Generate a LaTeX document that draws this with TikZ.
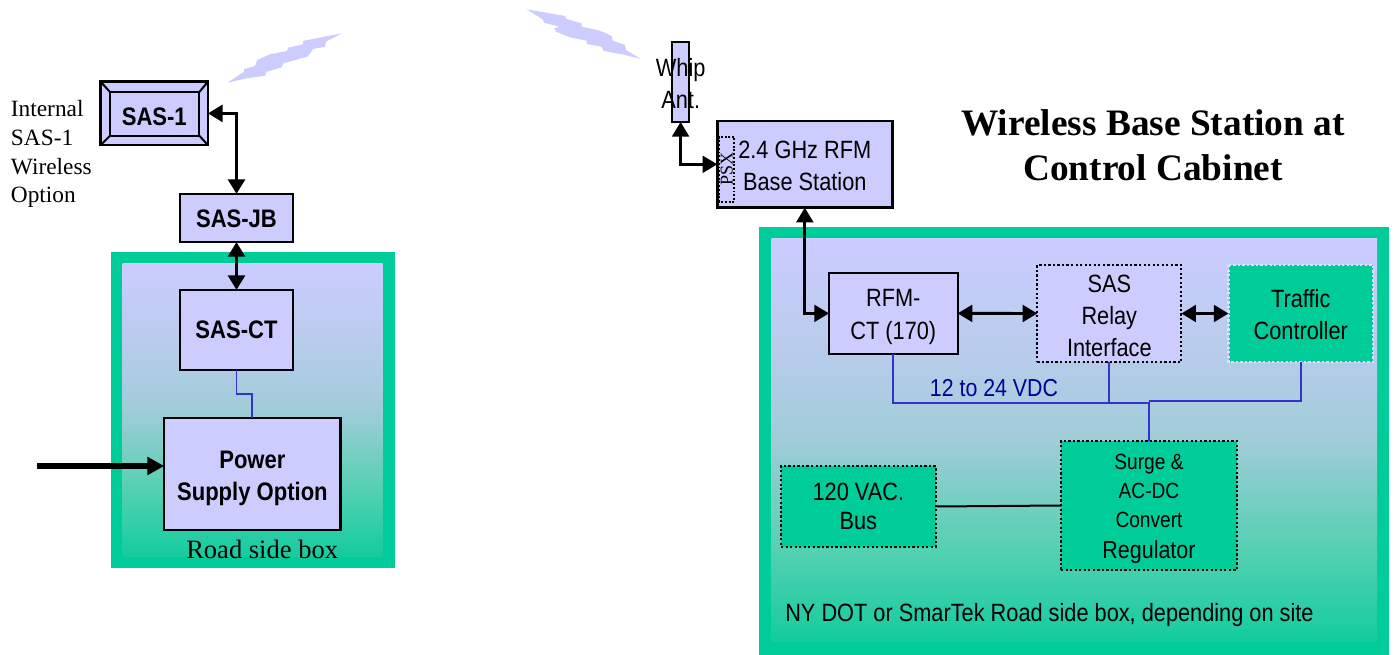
\documentclass[tikz,border=0pt]{standalone}
\usepackage{fontspec}
\setmainfont{Liberation Serif}
\newfontfamily\ari[FakeStretch=0.87]{Liberation Sans}
\usetikzlibrary{arrows.meta}
\definecolor{lav}{HTML}{CCCCFF}
\definecolor{grn}{HTML}{00CC99}
\definecolor{shA}{HTML}{CCCCFF}
\definecolor{shB}{HTML}{BACCEE}
\definecolor{shC}{HTML}{A0CCD8}
\definecolor{shD}{HTML}{5AD0B4}
\definecolor{shE}{HTML}{14CC9E}
\definecolor{pwr}{HTML}{3333CC}
\definecolor{lbl}{HTML}{000099}
\pgfdeclareverticalshading{cab}{100bp}{color(0bp)=(shE); color(25bp)=(shE); color(37.5bp)=(shD); color(50bp)=(shC); color(62.5bp)=(shB); color(75bp)=(shA); color(100bp)=(shA)}
\newcommand{\toph}[1]{\rule{0pt}{#1pt}}
\tikzset{
  wh/.style 2 args={minimum width=#1*0.75pt,minimum height=#2*0.75pt},
  pxbox/.style={rectangle,outer sep=0pt,inner sep=0pt,align=center,text=black},
  solidbox/.style={pxbox,draw=black,fill=lav,line width=1.9pt},
  thinbox/.style={pxbox,draw=black,fill=lav,line width=1.6pt},
  dotbox/.style={pxbox,draw=black,line width=1.7pt,dash pattern=on 1.7pt off 1.7pt},
  sf/.style={font=\ari\fontsize{18.75pt}{24pt}\selectfont},
  sfb/.style={font=\ari\bfseries\fontsize{19pt}{24pt}\selectfont},
  link/.style={draw=black,line width=2.8pt,{Triangle[length=11pt,width=12.5pt]}-{Triangle[length=11pt,width=12.5pt]}},
  linktwo/.style={draw=black,line width=2.2pt,{Triangle[length=11pt,width=12.5pt]}-{Triangle[length=11pt,width=12.5pt]}},
  feed/.style={draw=pwr,line width=1.4pt},
  bolt/.style={fill=lav,draw=none},
}
\begin{document}
\begin{tikzpicture}[x=0.75pt,y=-0.75pt]
\useasboundingbox (0,0) rectangle (1398,655);
% cabinets
\fill[grn] (110.5,252) rectangle (394.5,568);
\fill[shading=cab] (122.5,264) rectangle (382.5,556);
\fill[grn] (759,227) rectangle (1389,655);
\fill[shading=cab] (771.7,239) rectangle (1377,641.7);
% lightning
\fill[bolt] (227.3,82.7)--(244,71.7)--(244,69.3)--(255,66)--(257.3,60)--(270,54.3)--(286.7,51)--(288.3,47.7)--(303.3,44.3)--(302.7,41)--(341.7,33.3)--(326,41.7)--(325,46.7)--(313.3,49)--(307.3,56.7)--(283.3,63.3)--(281.7,67.3)--(266.7,71.7)--(265,75.7)--(246.7,78.3)--cycle;
\fill[bolt] (526.7,9.3)--(565,16)--(566,19)--(581.7,23.3)--(581.7,26.7)--(600,30.7)--(611.7,36)--(612.7,40.7)--(625,45)--(626,50)--(640.7,59)--(625,55)--(603.3,50.7)--(601.7,46.7)--(586.7,44)--(586.7,40.7)--(570,37.3)--(556,31.7)--(554.3,28.3)--(559.3,26.7)--(544,22.7)--(542.7,19.3)--cycle;
% left column
\node[solidbox,sfb,wh={107.3}{63.3}] (sas1) at (154.3,113.4) {\toph{18}SAS-1};
\draw[black,line width=1.7pt] (110,92) rectangle (199.3,135.7);
\coordinate (b1) at (110,92);\coordinate (b2) at (199.3,92);\coordinate (b3) at (199.3,135.7);\coordinate (b4) at (110,135.7);
\draw[black,line width=1.5pt] (sas1.north west)--(b1) (sas1.north east)--(b2) (sas1.south east)--(b3) (sas1.south west)--(b4);
\node[solidbox,sfb,wh={113}{48}] (jb) at (236.5,218) {\toph{15}SAS-JB};
\node[thinbox,sfb,wh={113}{80}] (ct) at (236.5,330) {SAS-CT};
\node[solidbox,sfb,wh={176.5}{112}] (power) at (252.4,474) {\toph{20.4}Power\\Supply Option};
\coordinate (bend) at (240,394);
\coordinate (mains) at (37,466);
\draw[link] (sas1.east) -| (jb.north);
\draw[link] (jb.south) -- (ct.north);
\draw[feed] (ct.south) -- (ct.south |- bend) -- (power.north |- bend) -- (power.north);
\draw[draw=black,line width=4.4pt,-{Triangle[length=12.5pt,width=13pt]}] (mains) -- (mains -| power.west);
\node[anchor=base west,inner sep=0pt,font=\fontsize{19.9pt}{24pt}\selectfont] (road) at (186,558) {Road side box};
\node[anchor=west,inner sep=0pt,align=left,font=\fontsize{17.5pt}{21.5pt}\selectfont] (internal) at (10.7,154.3) {Internal\\SAS-1\\Wireless\\Option};
% antenna and base station
\node[solidbox,line width=1.7pt,wh={16.7}{80.3}] (whip) at (680.6,81.8) {};
\node[pxbox,sf] (whipT) at (680.7,82.5) {\toph{15.2}Whip\\Ant.};
\node[solidbox,sf,wh={175}{86.7}] (base) at (804.8,164.3) {\toph{15}2.4 GHz RFM\\Base Station};
\node[pxbox,draw=black,line width=1.3pt,dash pattern=on 1.4pt off 1.4pt,rotate=90,font=\fontsize{13.5pt}{14pt}\selectfont,wh={65}{15.3}] (psx) at (726.7,169.2) {PSX};
\draw[linktwo] (whip.south) |- (base.west);
% cabinet contents
\node[thinbox,font=\ari\fontsize{18.75pt}{24.75pt}\selectfont,wh={128.6}{81.3}] (rfm) at (893.3,313.4) {\toph{18}RFM-\\CT (170)};
\node[dotbox,fill=lav,sf,wh={144}{97}] (relay) at (1109.3,313.5) {\toph{16.5}SAS\\Relay\\Interface};
\node[pxbox,fill=grn,sf,wh={144.5}{97}] (traffic) at (1300.75,313.5) {\toph{15.2}Traffic\\Controller};
\draw[draw=lav!60!white,line width=1.7pt,dash pattern=on 1.7pt off 1.7pt] (traffic.north west) rectangle (traffic.south east);
\node[dotbox,fill=grn,font=\ari\fontsize{18.75pt}{22pt}\selectfont,wh={154.7}{81}] (bus) at (858.35,506.5) {120 VAC.\\Bus};
\node[dotbox,fill=grn,font=\ari\fontsize{16.5pt}{21.5pt}\selectfont,wh={176}{129}] (surge) at (1149,505.5) {\toph{17}Surge \&\\AC-DC\\Convert\\[2pt]{\fontsize{18.5pt}{21.5pt}\selectfont Regulator}};
\draw[linktwo] (base.south) |- (rfm.west);
\draw[linktwo] (rfm.east) -- (relay.west);
\draw[linktwo] (relay.east) -- (traffic.west);
\coordinate (j1) at (1149,402.7);
\coordinate (j2) at (1149,400.7);
\draw[feed] (rfm.south) |- (j1) -- (surge.north);
\draw[feed] (relay.south) -- (relay.south |- j1);
\draw[feed] (traffic.south) |- (j2);
\draw[black,line width=1.5pt] (bus.east) -- (surge.west);
\node[anchor=base,inner sep=0pt,text=lbl,font=\ari\fontsize{18.4pt}{22pt}\selectfont] (vdc) at (994,396.7) {12 to 24 VDC};
\node[anchor=base west,inner sep=0pt,font=\ari\fontsize{18.75pt}{22pt}\selectfont] (site) at (785,621.7) {NY DOT or SmarTek Road side box, depending on site};
\node[inner sep=0pt,align=center,font=\bfseries\fontsize{28pt}{33.75pt}\selectfont] (title) at (1153,145) {Wireless Base Station at\\Control Cabinet};
\end{tikzpicture}
\end{document}
